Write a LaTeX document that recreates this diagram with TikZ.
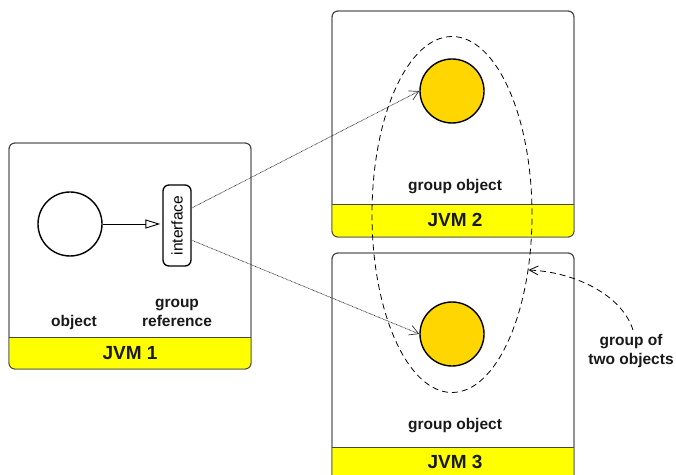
\documentclass[tikz,border=0pt]{standalone}
\usepackage{fontspec}
\setmainfont{Liberation Sans}
\usetikzlibrary{arrows.meta,shapes.geometric,calc}
\definecolor{bandyellow}{RGB}{255,255,0}
\definecolor{objgold}{RGB}{255,214,0}
\definecolor{boxgray}{RGB}{70,70,70}
\tikzset{
  jvmbox/.style={draw=boxgray, line width=0.9pt, rounded corners=6pt, rectangle, inner sep=0pt},
  objcircle/.style={circle, draw=black, line width=1.4pt, minimum size=64pt, inner sep=0pt},
  lbl/.style={font=\fontsize{15.5}{19}\selectfont\bfseries, align=center, inner sep=0pt, text=black!90},
  jvmlbl/.style={font=\fontsize{19}{22}\selectfont\bfseries, inner sep=0pt, text=black!90},
  ifacebox/.style={draw=black, line width=1.3pt, rounded corners=6pt, minimum width=28pt, minimum height=81pt, inner sep=0pt},
  refline/.style={gray!40!black, line width=0.75pt, dash pattern=on 0.7pt off 0.7pt, -{Straight Barb[length=9pt,width=10pt,line width=0.7pt]}},
}
\begin{document}
\begin{tikzpicture}[x=1pt,y=1pt]
\useasboundingbox (0,0) rectangle (676,474);
\clip (0,0) rectangle (676,474);
% boxes
\node[jvmbox, minimum width=242pt, minimum height=226pt] (jvm1) at (130,218) {};
\node[jvmbox, minimum width=242pt, minimum height=226pt] (jvm2) at (453,350) {};
\node[jvmbox, minimum width=242pt, minimum height=232pt] (jvm3) at (453,105) {};
% yellow bands
\begin{scope}
\clip[rounded corners=6pt] (jvm1.south west) rectangle (jvm1.north east);
\fill[bandyellow] (jvm1.south west) rectangle ($(jvm1.south east)+(0,32)$);
\end{scope}
\begin{scope}
\clip[rounded corners=6pt] (jvm2.south west) rectangle (jvm2.north east);
\fill[bandyellow] (jvm2.south west) rectangle ($(jvm2.south east)+(0,33)$);
\end{scope}
\begin{scope}
\clip[rounded corners=6pt] (jvm3.south west) rectangle (jvm3.north east);
\fill[bandyellow] (jvm3.south west) rectangle ($(jvm3.south east)+(0,38)$);
\end{scope}
\draw[boxgray, line width=0.7pt] ($(jvm1.south west)+(0,32)$) -- ($(jvm1.south east)+(0,32)$);
\draw[boxgray, line width=0.7pt] ($(jvm2.south west)+(0,33)$) -- ($(jvm2.south east)+(0,33)$);
\draw[boxgray, line width=0.7pt] ($(jvm3.south west)+(0,38)$) -- ($(jvm3.south east)+(0,38)$);
\node[jvmbox, minimum width=242pt, minimum height=226pt] at (jvm1) {};
\node[jvmbox, minimum width=242pt, minimum height=226pt] at (jvm2) {};
\node[jvmbox, minimum width=242pt, minimum height=232pt] at (jvm3) {};
% objects
\node[objcircle, fill=white] (obj1) at (70,250) {};
\node[objcircle, fill=objgold] (obj2) at (452,383) {};
\node[objcircle, fill=objgold] (obj3) at (452,140) {};
\node[ifacebox, fill=white] (iface) at (177,248.5) {};
\node[rotate=90, font=\fontsize{15.5}{18}\selectfont, inner sep=0pt] (ifacetxt) at (iface) {interface};
% labels
\node[lbl] (tobj) at (74,152) {object};
\node[lbl] (tgref) at (177,161.5) {group\\reference};
\node[jvmlbl] (tjvm1) at (130,121) {JVM 1};
\node[lbl] (tgo2) at (455,287) {group object};
\node[jvmlbl] (tjvm2) at (455,254) {JVM 2};
\node[lbl] (tgo3) at (455,48) {group object};
\node[jvmlbl] (tjvm3) at (455,12) {JVM 3};
\node[lbl] (tgroup) at (631,123) {group of\\two objects};
% group ellipse
\node[ellipse, draw=black, line width=0.8pt, dash pattern=on 6pt off 4pt, minimum width=160pt, minimum height=356pt, inner sep=0pt] (grp) at (452,259.5) {};
% connectors
\draw[line width=0.9pt, -{Triangle[open, length=15pt, width=9pt, line width=0.9pt]}] (obj1.east) -- ($(iface.west |- obj1.east)+(-2,0)$);
\draw[refline] (iface.50) -- (obj2.west);
\draw[refline] (iface.-45) -- (obj3.west);
\draw[line width=0.8pt, dash pattern=on 6pt off 4pt, -{Straight Barb[length=9pt,width=9pt,line width=0.8pt]}] ($(tgroup.north)+(2,4)$) .. controls (622,179) and (575,202) .. (grp.-36);
\end{tikzpicture}
\end{document}
